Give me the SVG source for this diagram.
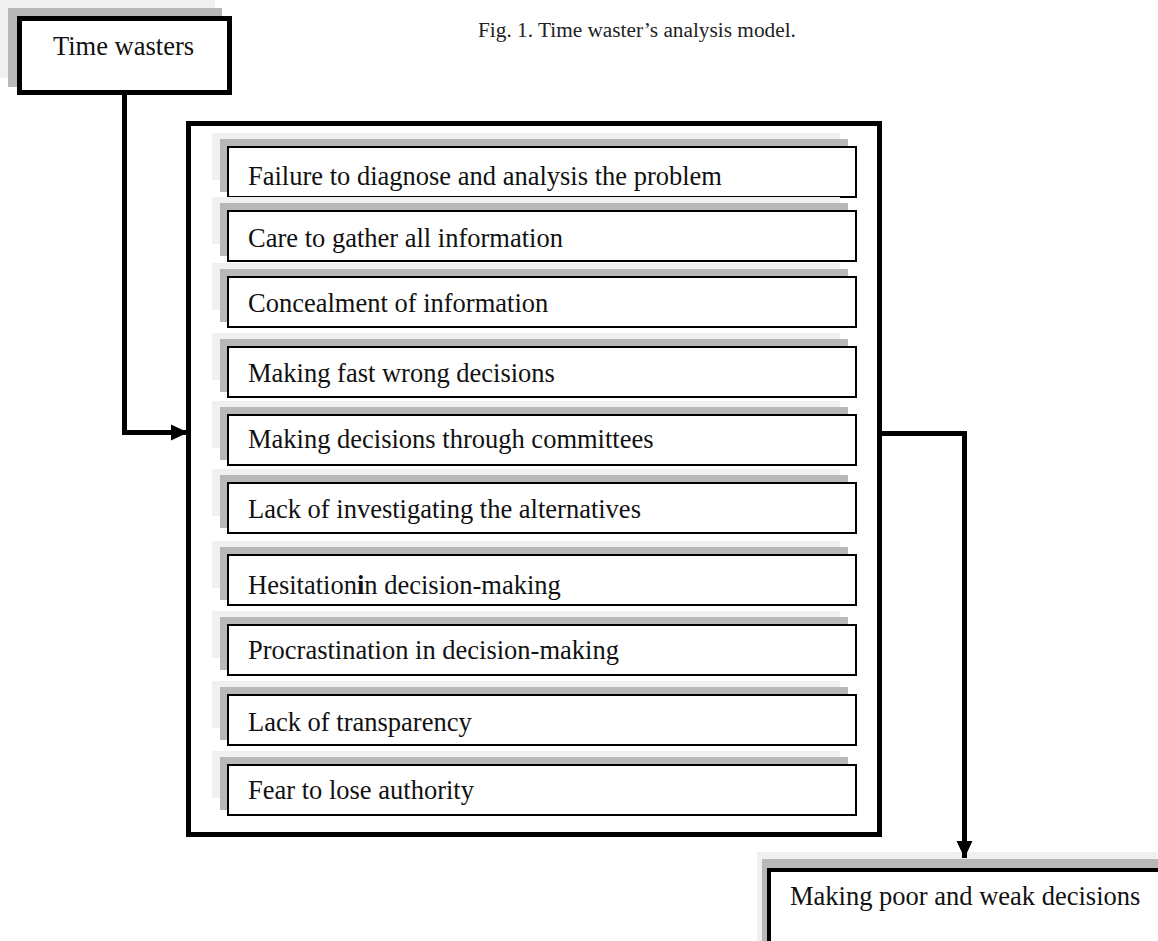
<svg xmlns="http://www.w3.org/2000/svg" width="1158" height="941" viewBox="0 0 1158 941">
  <style>
    .t { font-family: "Liberation Serif", "Times New Roman", serif; font-size: 26.5px; fill: #111; }
    .title { font-family: "Liberation Serif", "Times New Roman", serif; font-size: 21.3px; fill: #222; }
    .lg { fill: #f0f0f0; }
    .mg { fill: #b8b8b8; }
    .box { fill: #fff; stroke: #000; stroke-width: 2; }
    .conn { fill: none; stroke: #000; stroke-width: 5; }
  </style>
  <defs>
    <marker id="arr" markerUnits="userSpaceOnUse" markerWidth="18" markerHeight="18" refX="17" refY="9" orient="auto">
      <path d="M0,1 L17,9 L0,17 Z" fill="#000"/>
    </marker>
    <g id="item">
      <rect class="lg" x="212" y="-14" width="628" height="47"/>
      <rect class="mg" x="220" y="-8" width="628" height="53"/>
      <rect class="box" x="228" y="0" width="628" height="50"/>
    </g>
  </defs>
  <rect width="1158" height="941" fill="#fff"/>

  <text class="title" x="478" y="37">Fig. 1. Time waster’s analysis model.</text>

  <g id="time-wasters">
    <rect class="lg" x="0" y="0" width="215" height="78"/>
    <rect class="mg" x="8" y="8" width="214" height="79"/>
    <rect x="19.5" y="18.5" width="210" height="74" fill="#fff" stroke="#000" stroke-width="5"/>
    <text class="t" x="53" y="55">Time wasters</text>
  </g>

  <g id="frame">
    <rect x="188.5" y="123.5" width="691" height="711" fill="#fff" stroke="#000" stroke-width="5"/>
  </g>

  <g id="item1"><use href="#item" y="147"/><text class="t" x="248" y="185">Failure to diagnose and analysis the problem</text></g>
  <g id="item2"><use href="#item" y="211"/><text class="t" x="248" y="247">Care to gather all information</text></g>
  <g id="item3"><use href="#item" y="277"/><text class="t" x="248" y="312">Concealment of information</text></g>
  <g id="item4"><use href="#item" y="347"/><text class="t" x="248" y="382">Making fast wrong decisions</text></g>
  <g id="item5"><use href="#item" y="415"/><text class="t" x="248" y="448">Making decisions through committees</text></g>
  <g id="item6"><use href="#item" y="483"/><text class="t" x="248" y="518">Lack of investigating the alternatives</text></g>
  <g id="item7"><use href="#item" y="555"/><text class="t" x="248" y="594">Hesitation<tspan font-weight="bold">i</tspan>n decision-making</text></g>
  <g id="item8"><use href="#item" y="625"/><text class="t" x="248" y="659">Procrastination in decision-making</text></g>
  <g id="item9"><use href="#item" y="695"/><text class="t" x="248" y="731">Lack of transparency</text></g>
  <g id="item10"><use href="#item" y="765"/><text class="t" x="248" y="799">Fear to lose authority</text></g>

  <g id="result">
    <rect class="lg" x="757" y="852" width="400" height="95"/>
    <rect class="mg" x="762" y="859" width="400" height="95"/>
    <rect x="769" y="870" width="400" height="90" fill="#fff" stroke="#000" stroke-width="4"/>
    <text class="t" x="790" y="905">Making poor and weak decisions</text>
  </g>

  <g id="connectors">
    <path class="conn" d="M124.5,93 V432.5 H188" marker-end="url(#arr)"/>
    <path class="conn" d="M881,433.5 H964.5 V858" marker-end="url(#arr)"/>
  </g>
</svg>
